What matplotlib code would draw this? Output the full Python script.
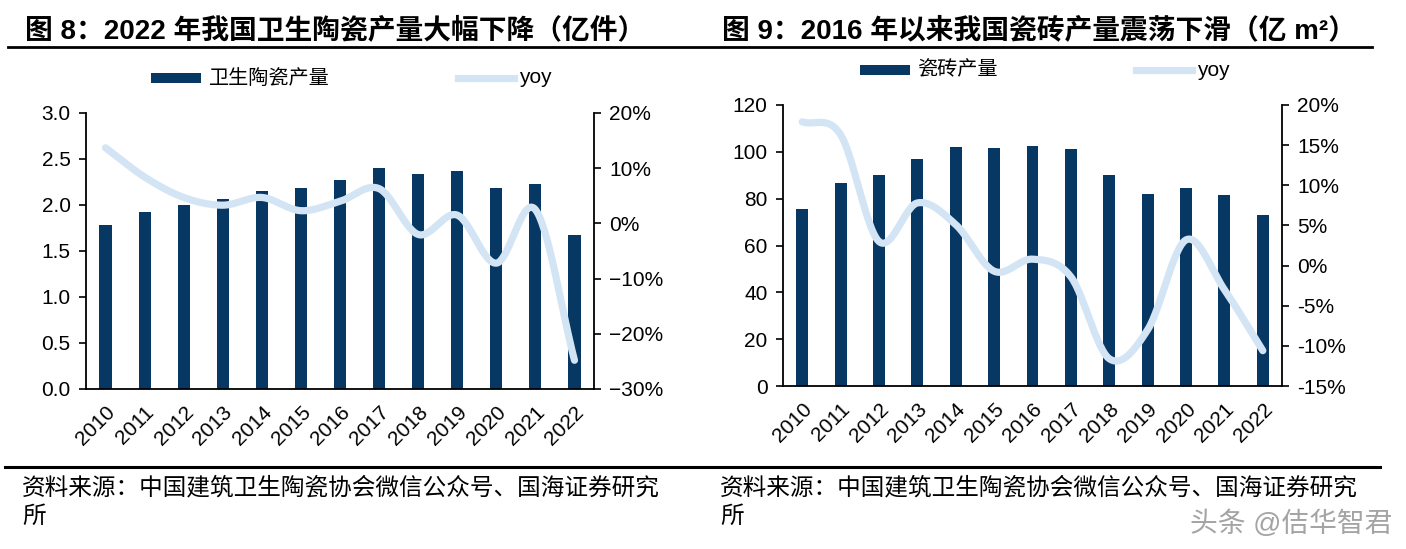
import numpy as np
import matplotlib
matplotlib.use("Agg")
import matplotlib.pyplot as plt
from matplotlib.lines import Line2D
from matplotlib.patches import Rectangle
from matplotlib.ticker import FuncFormatter

plt.rcParams["font.family"] = ["Liberation Sans", "Noto Sans CJK SC", "DejaVu Sans"]

# ---------------------------------------------------------------- data

years = [str(y) for y in range(2010, 2023)]

# fig 8: sanitary ceramics output (100 million pieces) and yoy
sanitary_output = [1.78, 1.92, 2.00, 2.06, 2.15, 2.19, 2.27, 2.40, 2.34, 2.37, 2.19, 2.23, 1.67]
sanitary_yoy = [13.7, 8.4, 4.7, 3.3, 4.7, 2.3, 4.0, 6.3, -2.0, 1.5, -7.2, 2.5, -24.8]

# fig 9: ceramic tile output (100 million m2) and yoy
tile_output = [75.7, 86.8, 89.9, 96.9, 102.1, 101.7, 102.4, 101.3, 89.9, 82.1, 84.6, 81.6, 73.0]
tile_yoy = [17.9, 16.3, 3.0, 7.8, 5.1, -0.7, 0.8, -1.4, -11.6, -8.0, 3.2, -3.0, -10.6]

titles = ["图 8：2022 年我国卫生陶瓷产量大幅下降（亿件）",
          "图 9：2016 年以来我国瓷砖产量震荡下滑（亿 m²）"]
bar_labels = ["卫生陶瓷产量", "瓷砖产量"]
source_lines = ["资料来源：中国建筑卫生陶瓷协会微信公众号、国海证券研究", "所"]

BAR = "#073763"
LINE = "#d3e5f5"
W, H = 1406, 549


def smooth(x, y, n=30):
    # catmull-rom through the data points (excel-style smoothed line)
    x = np.asarray(x, float)
    y = np.asarray(y, float)
    px = np.concatenate([[2 * x[0] - x[1]], x, [2 * x[-1] - x[-2]]])
    py = np.concatenate([[2 * y[0] - y[1]], y, [2 * y[-1] - y[-2]]])
    t = np.linspace(0, 1, n, endpoint=False)[:, None]
    xs, ys = [], []
    for i in range(1, len(px) - 2):
        for p, out in ((px, xs), (py, ys)):
            p0, p1, p2, p3 = p[i - 1], p[i], p[i + 1], p[i + 2]
            out.append((0.5 * (2 * p1 + (-p0 + p2) * t + (2 * p0 - 5 * p1 + 4 * p2 - p3) * t ** 2
                               + (-p0 + 3 * p1 - 3 * p2 + p3) * t ** 3)).ravel())
    xs.append([x[-1]])
    ys.append([y[-1]])
    return np.concatenate(xs), np.concatenate(ys)


def fx(px):
    return px / W


def fy(py):
    return 1 - py / H


fig = plt.figure(figsize=(W / 100, H / 100), dpi=100)

panels = [
    dict(box=(86, 113, 594, 389), bars=sanitary_output, yoy=sanitary_yoy,
         ylim=(0, 3.0), yticks=np.arange(0, 3.01, 0.5), yfmt=lambda v, p: f"{v:.1f}",
         y2lim=(-30, 20), y2ticks=np.arange(-30, 21, 10),
         y2fmt=lambda v, p: f"{v:.0f}%".replace("-", "\u2212"),
         title_x=25, leg=(151, 78), src_x=22),
    dict(box=(783, 105, 1282, 386), bars=tile_output, yoy=tile_yoy,
         ylim=(0, 120), yticks=np.arange(0, 121, 20), yfmt=lambda v, p: f"{v:.0f}",
         y2lim=(-15, 20), y2ticks=np.arange(-15, 21, 5),
         y2fmt=lambda v, p: f"{v:.0f}%",
         title_x=722, leg=(860, 70), src_x=720),
]

for k, pn in enumerate(panels):
    x0, y0, x1, y1 = pn["box"]
    ax = fig.add_axes([fx(x0), fy(y1), fx(x1) - fx(x0), (y1 - y0) / H])
    xpos = np.arange(len(years))
    ax.bar(xpos, pn["bars"], width=0.31, color=BAR, zorder=2)
    ax.set_xlim(-0.5, len(years) - 0.5)
    ax.set_ylim(*pn["ylim"])
    ax.set_yticks(pn["yticks"])
    ax.yaxis.set_major_formatter(FuncFormatter(pn["yfmt"]))
    ax.set_xticks(xpos)
    ax.set_xticklabels(years, rotation=45, ha="right", rotation_mode="anchor", fontsize=15)
    ax.tick_params(axis="x", length=0, pad=10)
    ax.tick_params(axis="y", direction="out", length=5, width=1.2, labelsize=15, pad=6)
    for s in ("top", "right"):
        ax.spines[s].set_visible(False)
    for s in ("left", "bottom"):
        ax.spines[s].set_linewidth(1.3)

    ax2 = ax.twinx()
    sx, sy = smooth(xpos, pn["yoy"])
    ax2.plot(sx, sy, color=LINE, lw=5.2, solid_capstyle="round", zorder=3)
    ax2.set_ylim(*pn["y2lim"])
    ax2.set_yticks(pn["y2ticks"])
    ax2.yaxis.set_major_formatter(FuncFormatter(pn["y2fmt"]))
    ax2.tick_params(axis="y", direction="out", length=5, width=1.2, labelsize=15, pad=6)
    for s in ("top", "left", "bottom"):
        ax2.spines[s].set_visible(False)
    ax2.spines["right"].set_linewidth(1.3)

    # title
    fig.text(fx(pn["title_x"]), fy(31), titles[k], fontsize=20, fontweight="bold",
             va="center", ha="left")

    # legend
    lx, ly = pn["leg"]
    fig.add_artist(Rectangle((fx(lx), fy(ly + 5)), fx(50), 10 / H, transform=fig.transFigure,
                             facecolor=BAR, edgecolor="none"))
    fig.text(fx(lx + 58), fy(ly), bar_labels[k], fontsize=14.5, va="center", ha="left")
    lx2 = lx + 307 if k == 0 else lx + 276
    fig.add_artist(Line2D([fx(lx2), fx(lx2 + 56)], [fy(ly), fy(ly)], transform=fig.transFigure,
                          color=LINE, lw=5.2))
    fig.text(fx(lx2 + 61), fy(ly), "yoy", fontsize=15, va="center", ha="left")

    # source note (two lines)
    fig.text(fx(pn["src_x"]), fy(488), source_lines[0], fontsize=17, va="center", ha="left")
    fig.text(fx(pn["src_x"]), fy(517), source_lines[1], fontsize=17, va="center", ha="left")

# horizontal rules
fig.add_artist(Line2D([fx(8), fx(1372)], [fy(47), fy(47)], transform=fig.transFigure,
                      color="black", lw=2.0))
fig.add_artist(Line2D([fx(5), fx(1380)], [fy(467), fy(467)], transform=fig.transFigure,
                      color="black", lw=2.2))

# watermark
fig.text(fx(1392), fy(524), "头条 @佶华智君", fontsize=20, color="#9a9a9a", ha="right",
         va="center", alpha=0.9)

fig.savefig("out.png", dpi=100)
